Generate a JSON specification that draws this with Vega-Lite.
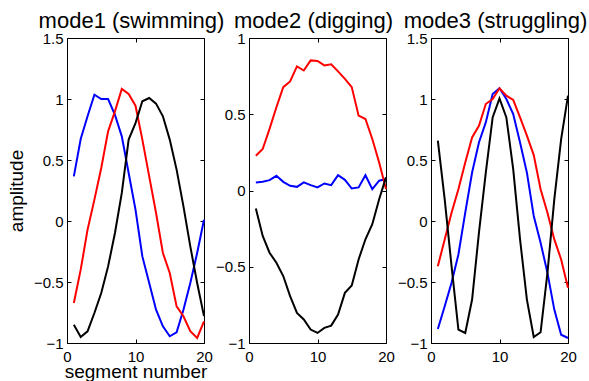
{
  "$schema": "https://vega.github.io/schema/vega-lite/v6.json",
  "autosize": {"type": "pad"},
  "padding": {"left": 7, "top": 10, "right": 0, "bottom": 0},
  "background": "white",
  "spacing": 45,
  "bounds": "flush",
  "config": {
    "view": {"stroke": null},
    "axis": {"domainColor": "black", "tickColor": "black", "labelColor": "black", "titleColor": "black", "labelFont": "Liberation Sans", "titleFont": "Liberation Sans", "labelFontSize": 15, "titleFontSize": 19, "titleFontWeight": "normal", "grid": false, "tickSize": -4, "labelPadding": 8, "labelFlush": false, "domainWidth": 1, "tickWidth": 1, "labelOverlap": false},
    "axisBottom": {"labelPadding": 10, "titlePadding": -1.5},
    "axisLeft": {"titlePadding": 7},
    "title": {"font": "Liberation Sans", "fontSize": 22, "fontWeight": "normal", "color": "black", "baseline": "alphabetic", "offset": -2, "dx": -4}
  },
  "datasets": {
    "modes": [
      {"panel":1,"seg":1,"curve":"c1","amp":0.366},{"panel":1,"seg":2,"curve":"c1","amp":0.672},{"panel":1,"seg":3,"curve":"c1","amp":0.858},{"panel":1,"seg":4,"curve":"c1","amp":1.035},{"panel":1,"seg":5,"curve":"c1","amp":1.0},{"panel":1,"seg":6,"curve":"c1","amp":1.0},{"panel":1,"seg":7,"curve":"c1","amp":0.87},{"panel":1,"seg":8,"curve":"c1","amp":0.694},{"panel":1,"seg":9,"curve":"c1","amp":0.393},{"panel":1,"seg":10,"curve":"c1","amp":0.093},{"panel":1,"seg":11,"curve":"c1","amp":-0.29},{"panel":1,"seg":12,"curve":"c1","amp":-0.508},{"panel":1,"seg":13,"curve":"c1","amp":-0.727},{"panel":1,"seg":14,"curve":"c1","amp":-0.863},{"panel":1,"seg":15,"curve":"c1","amp":-0.945},{"panel":1,"seg":16,"curve":"c1","amp":-0.913},{"panel":1,"seg":17,"curve":"c1","amp":-0.727},{"panel":1,"seg":18,"curve":"c1","amp":-0.508},{"panel":1,"seg":19,"curve":"c1","amp":-0.262},{"panel":1,"seg":20,"curve":"c1","amp":0.01},
      {"panel":1,"seg":1,"curve":"c2","amp":-0.672},{"panel":1,"seg":2,"curve":"c2","amp":-0.399},{"panel":1,"seg":3,"curve":"c2","amp":-0.071},{"panel":1,"seg":4,"curve":"c2","amp":0.175},{"panel":1,"seg":5,"curve":"c2","amp":0.434},{"panel":1,"seg":6,"curve":"c2","amp":0.735},{"panel":1,"seg":7,"curve":"c2","amp":0.899},{"panel":1,"seg":8,"curve":"c2","amp":1.082},{"panel":1,"seg":9,"curve":"c2","amp":1.041},{"panel":1,"seg":10,"curve":"c2","amp":0.945},{"panel":1,"seg":11,"curve":"c2","amp":0.667},{"panel":1,"seg":12,"curve":"c2","amp":0.366},{"panel":1,"seg":13,"curve":"c2","amp":0.066},{"panel":1,"seg":14,"curve":"c2","amp":-0.262},{"panel":1,"seg":15,"curve":"c2","amp":-0.426},{"panel":1,"seg":16,"curve":"c2","amp":-0.7},{"panel":1,"seg":17,"curve":"c2","amp":-0.781},{"panel":1,"seg":18,"curve":"c2","amp":-0.904},{"panel":1,"seg":19,"curve":"c2","amp":-0.959},{"panel":1,"seg":20,"curve":"c2","amp":-0.822},
      {"panel":1,"seg":1,"curve":"c3","amp":-0.85},{"panel":1,"seg":2,"curve":"c3","amp":-0.951},{"panel":1,"seg":3,"curve":"c3","amp":-0.904},{"panel":1,"seg":4,"curve":"c3","amp":-0.754},{"panel":1,"seg":5,"curve":"c3","amp":-0.59},{"panel":1,"seg":6,"curve":"c3","amp":-0.372},{"panel":1,"seg":7,"curve":"c3","amp":-0.098},{"panel":1,"seg":8,"curve":"c3","amp":0.23},{"panel":1,"seg":9,"curve":"c3","amp":0.667},{"panel":1,"seg":10,"curve":"c3","amp":0.803},{"panel":1,"seg":11,"curve":"c3","amp":0.981},{"panel":1,"seg":12,"curve":"c3","amp":1.008},{"panel":1,"seg":13,"curve":"c3","amp":0.962},{"panel":1,"seg":14,"curve":"c3","amp":0.858},{"panel":1,"seg":15,"curve":"c3","amp":0.667},{"panel":1,"seg":16,"curve":"c3","amp":0.421},{"panel":1,"seg":17,"curve":"c3","amp":0.12},{"panel":1,"seg":18,"curve":"c3","amp":-0.208},{"panel":1,"seg":19,"curve":"c3","amp":-0.508},{"panel":1,"seg":20,"curve":"c3","amp":-0.78},
      {"panel":2,"seg":1,"curve":"c1","amp":0.053},{"panel":2,"seg":2,"curve":"c1","amp":0.057},{"panel":2,"seg":3,"curve":"c1","amp":0.068},{"panel":2,"seg":4,"curve":"c1","amp":0.096},{"panel":2,"seg":5,"curve":"c1","amp":0.057},{"panel":2,"seg":6,"curve":"c1","amp":0.031},{"panel":2,"seg":7,"curve":"c1","amp":0.024},{"panel":2,"seg":8,"curve":"c1","amp":0.053},{"panel":2,"seg":9,"curve":"c1","amp":0.035},{"panel":2,"seg":10,"curve":"c1","amp":0.02},{"panel":2,"seg":11,"curve":"c1","amp":0.046},{"panel":2,"seg":12,"curve":"c1","amp":0.035},{"panel":2,"seg":13,"curve":"c1","amp":0.1},{"panel":2,"seg":14,"curve":"c1","amp":0.07},{"panel":2,"seg":15,"curve":"c1","amp":0.013},{"panel":2,"seg":16,"curve":"c1","amp":0.02},{"panel":2,"seg":17,"curve":"c1","amp":0.1},{"panel":2,"seg":18,"curve":"c1","amp":0.009},{"panel":2,"seg":19,"curve":"c1","amp":0.064},{"panel":2,"seg":20,"curve":"c1","amp":0.075},
      {"panel":2,"seg":1,"curve":"c2","amp":0.228},{"panel":2,"seg":2,"curve":"c2","amp":0.272},{"panel":2,"seg":3,"curve":"c2","amp":0.404},{"panel":2,"seg":4,"curve":"c2","amp":0.546},{"panel":2,"seg":5,"curve":"c2","amp":0.678},{"panel":2,"seg":6,"curve":"c2","amp":0.715},{"panel":2,"seg":7,"curve":"c2","amp":0.814},{"panel":2,"seg":8,"curve":"c2","amp":0.787},{"panel":2,"seg":9,"curve":"c2","amp":0.853},{"panel":2,"seg":10,"curve":"c2","amp":0.849},{"panel":2,"seg":11,"curve":"c2","amp":0.82},{"panel":2,"seg":12,"curve":"c2","amp":0.827},{"panel":2,"seg":13,"curve":"c2","amp":0.781},{"panel":2,"seg":14,"curve":"c2","amp":0.732},{"panel":2,"seg":15,"curve":"c2","amp":0.678},{"panel":2,"seg":16,"curve":"c2","amp":0.491},{"panel":2,"seg":17,"curve":"c2","amp":0.469},{"panel":2,"seg":18,"curve":"c2","amp":0.338},{"panel":2,"seg":19,"curve":"c2","amp":0.184},{"panel":2,"seg":20,"curve":"c2","amp":0.01},
      {"panel":2,"seg":1,"curve":"c3","amp":-0.118},{"panel":2,"seg":2,"curve":"c3","amp":-0.298},{"panel":2,"seg":3,"curve":"c3","amp":-0.408},{"panel":2,"seg":4,"curve":"c3","amp":-0.474},{"panel":2,"seg":5,"curve":"c3","amp":-0.561},{"panel":2,"seg":6,"curve":"c3","amp":-0.693},{"panel":2,"seg":7,"curve":"c3","amp":-0.803},{"panel":2,"seg":8,"curve":"c3","amp":-0.846},{"panel":2,"seg":9,"curve":"c3","amp":-0.912},{"panel":2,"seg":10,"curve":"c3","amp":-0.934},{"panel":2,"seg":11,"curve":"c3","amp":-0.901},{"panel":2,"seg":12,"curve":"c3","amp":-0.886},{"panel":2,"seg":13,"curve":"c3","amp":-0.814},{"panel":2,"seg":14,"curve":"c3","amp":-0.671},{"panel":2,"seg":15,"curve":"c3","amp":-0.623},{"panel":2,"seg":16,"curve":"c3","amp":-0.452},{"panel":2,"seg":17,"curve":"c3","amp":-0.32},{"panel":2,"seg":18,"curve":"c3","amp":-0.221},{"panel":2,"seg":19,"curve":"c3","amp":-0.057},{"panel":2,"seg":20,"curve":"c3","amp":0.086},
      {"panel":3,"seg":1,"curve":"c1","amp":-0.885},{"panel":3,"seg":2,"curve":"c1","amp":-0.699},{"panel":3,"seg":3,"curve":"c1","amp":-0.507},{"panel":3,"seg":4,"curve":"c1","amp":-0.274},{"panel":3,"seg":5,"curve":"c1","amp":0.068},{"panel":3,"seg":6,"curve":"c1","amp":0.397},{"panel":3,"seg":7,"curve":"c1","amp":0.644},{"panel":3,"seg":8,"curve":"c1","amp":0.808},{"panel":3,"seg":9,"curve":"c1","amp":1.041},{"panel":3,"seg":10,"curve":"c1","amp":1.088},{"panel":3,"seg":11,"curve":"c1","amp":1.0},{"panel":3,"seg":12,"curve":"c1","amp":0.877},{"panel":3,"seg":13,"curve":"c1","amp":0.644},{"panel":3,"seg":14,"curve":"c1","amp":0.397},{"panel":3,"seg":15,"curve":"c1","amp":0.041},{"panel":3,"seg":16,"curve":"c1","amp":-0.178},{"panel":3,"seg":17,"curve":"c1","amp":-0.425},{"panel":3,"seg":18,"curve":"c1","amp":-0.726},{"panel":3,"seg":19,"curve":"c1","amp":-0.932},{"panel":3,"seg":20,"curve":"c1","amp":-0.959},
      {"panel":3,"seg":1,"curve":"c2","amp":-0.37},{"panel":3,"seg":2,"curve":"c2","amp":-0.151},{"panel":3,"seg":3,"curve":"c2","amp":0.068},{"panel":3,"seg":4,"curve":"c2","amp":0.26},{"panel":3,"seg":5,"curve":"c2","amp":0.479},{"panel":3,"seg":6,"curve":"c2","amp":0.685},{"panel":3,"seg":7,"curve":"c2","amp":0.781},{"panel":3,"seg":8,"curve":"c2","amp":0.959},{"panel":3,"seg":9,"curve":"c2","amp":1.0},{"panel":3,"seg":10,"curve":"c2","amp":1.088},{"panel":3,"seg":11,"curve":"c2","amp":1.027},{"panel":3,"seg":12,"curve":"c2","amp":0.992},{"panel":3,"seg":13,"curve":"c2","amp":0.849},{"panel":3,"seg":14,"curve":"c2","amp":0.699},{"panel":3,"seg":15,"curve":"c2","amp":0.54},{"panel":3,"seg":16,"curve":"c2","amp":0.26},{"panel":3,"seg":17,"curve":"c2","amp":0.068},{"panel":3,"seg":18,"curve":"c2","amp":-0.151},{"panel":3,"seg":19,"curve":"c2","amp":-0.315},{"panel":3,"seg":20,"curve":"c2","amp":-0.548},
      {"panel":3,"seg":1,"curve":"c3","amp":0.658},{"panel":3,"seg":2,"curve":"c3","amp":0.178},{"panel":3,"seg":3,"curve":"c3","amp":-0.37},{"panel":3,"seg":4,"curve":"c3","amp":-0.89},{"panel":3,"seg":5,"curve":"c3","amp":-0.918},{"panel":3,"seg":6,"curve":"c3","amp":-0.644},{"panel":3,"seg":7,"curve":"c3","amp":-0.096},{"panel":3,"seg":8,"curve":"c3","amp":0.397},{"panel":3,"seg":9,"curve":"c3","amp":0.849},{"panel":3,"seg":10,"curve":"c3","amp":1.005},{"panel":3,"seg":11,"curve":"c3","amp":0.849},{"panel":3,"seg":12,"curve":"c3","amp":0.425},{"panel":3,"seg":13,"curve":"c3","amp":-0.151},{"panel":3,"seg":14,"curve":"c3","amp":-0.644},{"panel":3,"seg":15,"curve":"c3","amp":-0.951},{"panel":3,"seg":16,"curve":"c3","amp":-0.912},{"panel":3,"seg":17,"curve":"c3","amp":-0.425},{"panel":3,"seg":18,"curve":"c3","amp":0.178},{"panel":3,"seg":19,"curve":"c3","amp":0.671},{"panel":3,"seg":20,"curve":"c3","amp":1.027}
    ]
  },
  "data": {"name": "modes"},
  "hconcat": [
    {
      "width": 137, "height": 305,
      "title": "mode1 (swimming)",
      "transform": [{"filter": "datum.panel == 1"}],
      "layer": [
        {
          "mark": {"type": "line", "strokeWidth": 2},
          "encoding": {
            "x": {"field": "seg", "type": "quantitative", "scale": {"domain": [0, 20], "nice": false}, "axis": {"orient": "bottom", "values": [0, 10, 20], "format": "d", "title": "segment number"}},
            "y": {"field": "amp", "type": "quantitative", "scale": {"domain": [-1, 1.5], "nice": false, "zero": false}, "axis": {"orient": "left", "values": [-1, -0.5, 0, 0.5, 1, 1.5], "format": "~g", "title": "amplitude"}},
            "color": {"field": "curve", "type": "nominal", "scale": {"domain": ["c1", "c2", "c3"], "range": ["#0000ff", "#ff0000", "#000000"]}, "legend": null}
          }
        },
        {
          "mark": {"type": "line", "opacity": 0},
          "encoding": {
            "x": {"field": "seg", "type": "quantitative", "axis": {"orient": "top", "values": [0, 10, 20], "labels": false, "title": null}},
            "y": {"field": "amp", "type": "quantitative", "axis": {"orient": "right", "values": [-1, -0.5, 0, 0.5, 1, 1.5], "labels": false, "title": null}}
          }
        }
      ],
      "resolve": {"axis": {"x": "independent", "y": "independent"}}
    },
    {
      "width": 137, "height": 305,
      "title": "mode2 (digging)",
      "transform": [{"filter": "datum.panel == 2"}],
      "layer": [
        {
          "mark": {"type": "line", "strokeWidth": 2},
          "encoding": {
            "x": {"field": "seg", "type": "quantitative", "scale": {"domain": [0, 20], "nice": false}, "axis": {"orient": "bottom", "values": [0, 10, 20], "format": "d", "title": null}},
            "y": {"field": "amp", "type": "quantitative", "scale": {"domain": [-1, 1], "nice": false, "zero": false}, "axis": {"orient": "left", "values": [-1, -0.5, 0, 0.5, 1], "format": "~g", "title": null}},
            "color": {"field": "curve", "type": "nominal", "scale": {"domain": ["c1", "c2", "c3"], "range": ["#0000ff", "#ff0000", "#000000"]}, "legend": null}
          }
        },
        {
          "mark": {"type": "line", "opacity": 0},
          "encoding": {
            "x": {"field": "seg", "type": "quantitative", "axis": {"orient": "top", "values": [0, 10, 20], "labels": false, "title": null}},
            "y": {"field": "amp", "type": "quantitative", "axis": {"orient": "right", "values": [-1, -0.5, 0, 0.5, 1], "labels": false, "title": null}}
          }
        }
      ],
      "resolve": {"axis": {"x": "independent", "y": "independent"}}
    },
    {
      "width": 137, "height": 305,
      "title": "mode3 (struggling)",
      "transform": [{"filter": "datum.panel == 3"}],
      "layer": [
        {
          "mark": {"type": "line", "strokeWidth": 2},
          "encoding": {
            "x": {"field": "seg", "type": "quantitative", "scale": {"domain": [0, 20], "nice": false}, "axis": {"orient": "bottom", "values": [0, 10, 20], "format": "d", "title": null}},
            "y": {"field": "amp", "type": "quantitative", "scale": {"domain": [-1, 1.5], "nice": false, "zero": false}, "axis": {"orient": "left", "values": [-1, -0.5, 0, 0.5, 1, 1.5], "format": "~g", "title": null}},
            "color": {"field": "curve", "type": "nominal", "scale": {"domain": ["c1", "c2", "c3"], "range": ["#0000ff", "#ff0000", "#000000"]}, "legend": null}
          }
        },
        {
          "mark": {"type": "line", "opacity": 0},
          "encoding": {
            "x": {"field": "seg", "type": "quantitative", "axis": {"orient": "top", "values": [0, 10, 20], "labels": false, "title": null}},
            "y": {"field": "amp", "type": "quantitative", "axis": {"orient": "right", "values": [-1, -0.5, 0, 0.5, 1, 1.5], "labels": false, "title": null}}
          }
        }
      ],
      "resolve": {"axis": {"x": "independent", "y": "independent"}}
    }
  ]
}
